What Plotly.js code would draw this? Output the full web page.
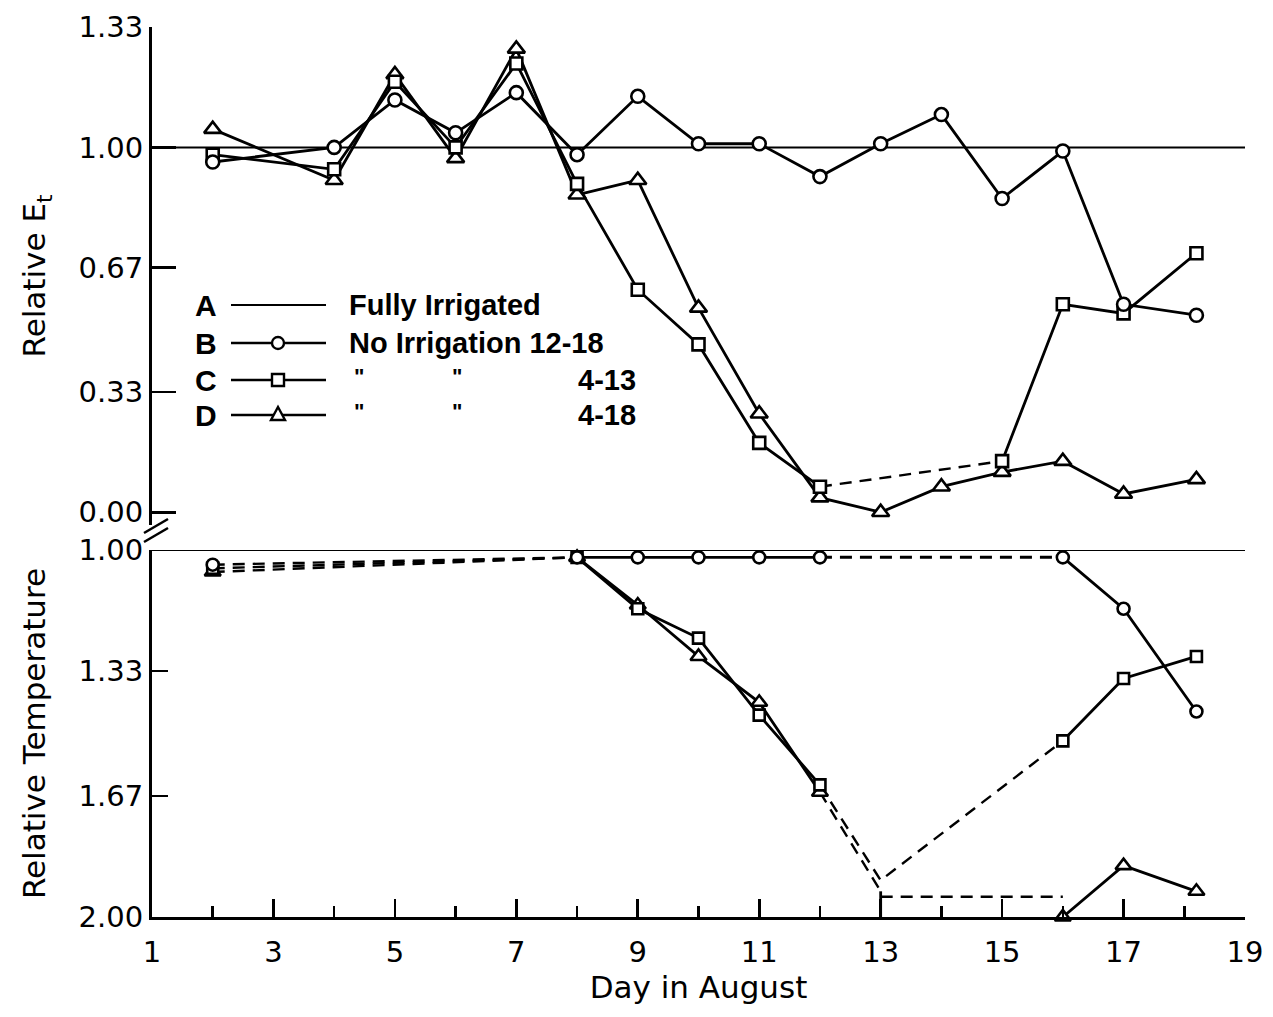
<!DOCTYPE html>
<html>
<head>
<meta charset="utf-8">
<script src="https://cdn.plot.ly/plotly-3.0.1.min.js"></script>
<style>html,body{margin:0;padding:0;background:#fff;}#chart{width:1273px;height:1017px;}</style>
</head>
<body>
<div id="chart"></div>
<script>
// ---------- data ----------
// Upper panel: Relative Et
const daysEt = [2, 4, 5, 6, 7, 8, 9, 10, 11, 12, 13, 14, 15, 16, 17, 18.2];
const B_Et = [0.96, 1.00, 1.13, 1.04, 1.15, 0.98, 1.14, 1.01, 1.01, 0.92, 1.01, 1.09, 0.86, 0.99, 0.57, 0.54];
const C_Et = [0.98, 0.94, 1.18, 1.00, 1.23, 0.90, 0.61, 0.46, 0.19, 0.07, null, null, 0.14, 0.57, 0.545, 0.71];
const D_Et = [1.05, 0.91, 1.20, 0.97, 1.27, 0.87, 0.91, 0.56, 0.27, 0.04, 0.00, 0.07, 0.11, 0.14, 0.05, 0.09];
const A_days = [1, 19];
const A_val = [1.00, 1.00];

// Lower panel: Relative Temperature
const daysT = [2, 8, 9, 10, 11, 12, 13, 16, 17, 18.2];
const B_T = [1.04, 1.02, 1.02, 1.02, 1.02, 1.02, null, 1.02, 1.16, 1.44];
const C_T = [1.05, 1.02, 1.16, 1.24, 1.45, 1.64, 1.90, 1.52, 1.35, 1.29];
const D_T = [1.06, 1.02, 1.15, 1.29, 1.415, 1.66, 1.93, 2.00, 1.86, 1.93];
const D_T_offscale = 2.00;   // D runs off the scale on day 13
const D_T_hold = 1.945;      // dashed level of D between day 13 and 16

const yTicksEt = [0.00, 0.33, 0.67, 1.00, 1.33];
const yTicksT = [1.00, 1.33, 1.67, 2.00];

const legendLetters = ['A', 'B', 'C', 'D'];
const legendText = ['Fully Irrigated', 'No Irrigation 12-18', '4-13', '4-18'];
const dittoMark = '"';

// ---------- helpers ----------
const K = '#000';
function line(x, y, ya, dash, w) {
  return {x: x, y: y, xaxis: 'x', yaxis: ya, mode: 'lines', type: 'scatter', connectgaps: true,
          line: {color: K, width: w || 2.8, dash: dash || 'solid'}, hoverinfo: 'skip', cliponaxis: false};
}
function marks(x, y, ya, sym, size) {
  return {x: x, y: y, xaxis: 'x', yaxis: ya, mode: 'markers', type: 'scatter', cliponaxis: false,
          marker: {symbol: sym, size: size, color: '#fff', line: {color: K, width: 2.6}}, hoverinfo: 'skip'};
}
const sl = (a, i0, i1) => a.slice(i0, i1 + 1);
const DASH = '12px,8px';

const traces = [];
// ---- upper panel ----
traces.push(line(A_days, A_val, 'y2', 'solid', 2));
traces.push(line(daysEt, B_Et, 'y2'));
// C: solid with a gap, dashed bridge across the gap
const t = line(daysEt, C_Et, 'y2'); t.connectgaps = false; traces.push(t);
let gapStart = C_Et.indexOf(null) - 1;
let gapEnd = gapStart + 1; while (C_Et[gapEnd] === null) gapEnd++;
traces.push(line([daysEt[gapStart], daysEt[gapEnd]], [C_Et[gapStart], C_Et[gapEnd]], 'y2', DASH, 2.4));
traces.push(line(daysEt, D_Et, 'y2'));

// ---- lower panel ----
traces.push(line(A_days, A_val, 'y', 'solid', 2));
[B_T, C_T, D_T].forEach(function (s) {
  traces.push(line(sl(daysT, 0, 1), sl(s, 0, 1), 'y', DASH, 2.4)); // days 2-8 dashed
  traces.push(line(sl(daysT, 1, 5), sl(s, 1, 5), 'y'));           // days 8-12 solid
  traces.push(line(sl(daysT, 7, 9), sl(s, 7, 9), 'y'));           // days 16-18 solid
});
traces.push(line(sl(daysT, 5, 7), sl(B_T, 5, 7), 'y', DASH, 3));      // B 12-16 dashed
traces.push(line(sl(daysT, 5, 7), sl(C_T, 5, 7), 'y', DASH, 2.4));    // C 12-13-16 dashed
traces.push(line(sl(daysT, 5, 6), sl(D_T, 5, 6), 'y', DASH, 2.4));    // D 12-13 dashed
traces.push(line([daysT[6], daysT[6]], [D_T[6], D_T_offscale], 'y', 'solid', 2.8));
traces.push(line([daysT[6], daysT[7]], [D_T_hold, D_T_hold], 'y', DASH, 2.4));

// markers (drawn on top)
traces.push(marks(daysEt, D_Et, 'y2', 'triangle-up', 15));
traces.push(marks(daysEt, C_Et, 'y2', 'square', 12));
traces.push(marks(daysEt, B_Et, 'y2', 'circle', 13));
const noDay13 = (a) => a.map((v, i) => (daysT[i] === 13 ? null : v));
traces.push(marks(daysT, noDay13(D_T), 'y', 'triangle-up', 14));
traces.push(marks(daysT, noDay13(C_T), 'y', 'square', 11));
traces.push(marks(daysT, B_T, 'y', 'circle', 12));

// ---------- layout ----------
const plotL = 152, plotR = 1245, plotT = 27, plotB = 917;
const px = (p) => (p - plotL) / (plotR - plotL);
const py = (p) => (plotB - p) / (plotB - plotT);

const shapes = [];
const annotations = [];
// axis break marks
[0, 9].forEach(function (o) {
  shapes.push({type: 'line', xref: 'paper', yref: 'paper', x0: px(144), y0: py(542 - o), x1: px(168), y1: py(528 - o),
               line: {color: K, width: 2.6}});
});
// legend
const rowY = [305, 343, 380, 415];
const lf = {family: 'Liberation Sans, Arial, sans-serif', size: 29, color: K};
rowY.forEach(function (yy, i) {
  annotations.push({xref: 'paper', yref: 'paper', x: px(206), y: py(yy), text: '<b>' + legendLetters[i] + '</b>',
                    showarrow: false, xanchor: 'center', yanchor: 'middle', font: {family: 'Liberation Sans Narrow, Liberation Sans, sans-serif', size: 30, color: K}});
  shapes.push({type: 'line', xref: 'paper', yref: 'paper', x0: px(231), x1: px(326), y0: py(yy), y1: py(yy),
               line: {color: K, width: i === 0 ? 2 : 2.4}});
  annotations.push({xref: 'paper', yref: 'paper', x: i < 2 ? px(347) : px(638), y: py(yy), text: '<b>' + legendText[i] + '</b>',
                    showarrow: false, xanchor: i < 2 ? 'left' : 'right', yanchor: 'middle', font: lf});
  if (i >= 2) {
    [359, 457].forEach(function (dx) {
      annotations.push({xref: 'paper', yref: 'paper', x: px(dx), y: py(yy - 4), text: '<b>' + dittoMark + '</b>',
                        showarrow: false, xanchor: 'center', yanchor: 'middle',
                        font: {family: 'Liberation Sans Narrow, Liberation Sans, sans-serif', size: 22, color: K}});
    });
  }
});
// legend symbols
const cx = px(278);
shapes.push({type: 'circle', xref: 'paper', yref: 'paper', xsizemode: 'pixel', ysizemode: 'pixel', xanchor: cx, yanchor: py(rowY[1]),
             x0: -6, x1: 6, y0: -6, y1: 6, fillcolor: '#fff', line: {color: K, width: 2.4}});
shapes.push({type: 'rect', xref: 'paper', yref: 'paper', xsizemode: 'pixel', ysizemode: 'pixel', xanchor: cx, yanchor: py(rowY[2]),
             x0: -6, x1: 6, y0: -6, y1: 6, fillcolor: '#fff', line: {color: K, width: 2.4}});
shapes.push({type: 'path', xref: 'paper', yref: 'paper', xsizemode: 'pixel', ysizemode: 'pixel', xanchor: cx, yanchor: py(rowY[3]),
             path: 'M-7,-5 L7,-5 L0,8 Z', fillcolor: '#fff', line: {color: K, width: 2.4}});

const tickFont = {family: 'DejaVu Sans, sans-serif', size: 29, color: K};
const titleFont = {family: 'DejaVu Sans, sans-serif', size: 31, color: K};

const layout = {
  width: 1273, height: 1017,
  margin: {l: plotL, r: 1273 - plotR, t: plotT, b: 1017 - plotB},
  paper_bgcolor: '#fff', plot_bgcolor: '#fff',
  showlegend: false,
  font: {family: 'DejaVu Sans, sans-serif', color: K},
  xaxis: {
    domain: [0, 1], range: [1, 19], anchor: 'y',
    showline: true, linecolor: K, linewidth: 2.6,
    tickmode: 'linear', tick0: 1, dtick: 2,
    ticks: 'inside', ticklen: 18, tickwidth: 2.6, tickcolor: K,
    minor: {tickmode: 'linear', tick0: 1, dtick: 1, ticks: 'inside', ticklen: 11, tickwidth: 2.6, tickcolor: K, showgrid: false},
    showgrid: false, zeroline: false, tickfont: tickFont, ticklabelstandoff: 8,
    title: {text: 'Day in August', font: titleFont, standoff: 6}
  },
  yaxis: {
    domain: [0, py(550)], range: [2.0, 1.0], anchor: 'x',
    showline: true, linecolor: K, linewidth: 3,
    tickmode: 'array', tickvals: yTicksT, ticktext: yTicksT.map(v => v.toFixed(2)),
    ticks: 'inside', ticklen: 16, tickwidth: 2.6, tickcolor: K,
    showgrid: false, zeroline: false, tickfont: tickFont,
    title: {text: 'Relative Temperature', font: titleFont, standoff: 24}
  },
  yaxis2: {
    domain: [py(525), 1], range: [-0.035, 1.33], anchor: 'x',
    showline: true, linecolor: K, linewidth: 3,
    tickmode: 'array', tickvals: yTicksEt, ticktext: yTicksEt.map(v => v.toFixed(2)),
    ticks: 'inside', ticklen: 24, tickwidth: 2.6, tickcolor: K,
    showgrid: false, zeroline: false, tickfont: tickFont,
    title: {text: 'Relative E<sub>t</sub>', font: titleFont, standoff: 24}
  },
  shapes: shapes,
  annotations: annotations
};

Plotly.newPlot('chart', traces, layout, {staticPlot: true, displayModeBar: false});
</script>
</body>
</html>
